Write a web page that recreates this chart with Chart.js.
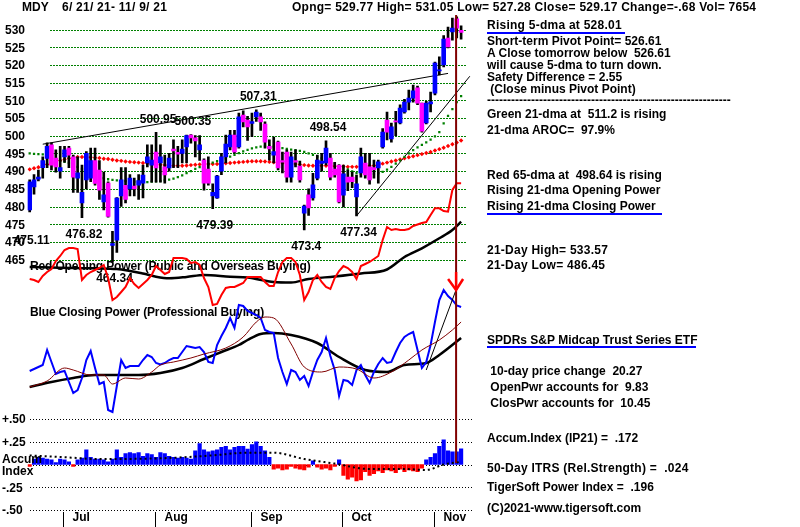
<!DOCTYPE html>
<html>
<head>
<meta charset="utf-8">
<script src="https://cdn.jsdelivr.net/npm/chart.js@4.4.0/dist/chart.umd.min.js"></script>
<style>
  body { margin: 0; background: #fff; }
  #wrap { position: relative; width: 800px; height: 527px; overflow: hidden; background: #fff;
          font: bold 12px "Liberation Sans", Arial, sans-serif; color: #000; }
  #wrap canvas { position: absolute; left: 0; top: 0; }
  .t { position: absolute; white-space: pre; line-height: 14px; }
  .n { letter-spacing: 0.25px; }
  .u { position: absolute; height: 2px; background: #0000ff; }
</style>
</head>
<body>
<div id="wrap">
  <canvas id="chart" width="800" height="527"></canvas>

  <div class="t" style="left:22px;top:0px">MDY</div>
  <div class="t n" style="left:62px;top:0px">6/ 21/ 21- 11/ 9/ 21</div>
  <div class="t n" style="left:292px;top:0px">Opng= 529.77 High= 531.05 Low= 527.28 Close= 529.17 Change=-.68 Vol= 7654</div>

  <div class="t n" style="left:487px;top:18px">Rising 5-dma at 528.01</div>
  <div class="u" style="left:487px;top:32px;width:138px"></div>
  <div class="t" style="left:487px;top:34px">Short-term Pivot Point= 526.61</div>
  <div class="t" style="left:487px;top:46px">A Close tomorrow below  526.61</div>
  <div class="t" style="left:487px;top:58px">will cause 5-dma to turn down.</div>
  <div class="t" style="left:487px;top:70px">Safety Difference = 2.55</div>
  <div class="t" style="left:487px;top:82px"> (Close minus Pivot Point)</div>
  <div class="t" style="left:487px;top:93px">-------------------------------------------------------------</div>
  <div class="t" style="left:487px;top:107px">Green 21-dma at  511.2 is rising</div>
  <div class="t" style="left:487px;top:123px">21-dma AROC=  97.9%</div>
  <div class="t" style="left:487px;top:168px">Red 65-dma at  498.64 is rising</div>
  <div class="t" style="left:487px;top:183px">Rising 21-dma Opening Power</div>
  <div class="t" style="left:487px;top:199px">Rising 21-dma Closing Power</div>
  <div class="u" style="left:487px;top:213px;width:175px"></div>
  <div class="t n" style="left:487px;top:243px">21-Day High= 533.57</div>
  <div class="t n" style="left:487px;top:258px">21-Day Low= 486.45</div>

  <div class="t" style="left:487px;top:333px">SPDRs S&amp;P Midcap Trust Series ETF</div>
  <div class="u" style="left:487px;top:346px;width:209px"></div>
  <div class="t" style="left:487px;top:364px"> 10-day price change  20.27</div>
  <div class="t" style="left:487px;top:380px"> OpenPwr accounts for  9.83</div>
  <div class="t" style="left:487px;top:396px"> ClosPwr accounts for  10.45</div>
  <div class="t" style="left:487px;top:431px">Accum.Index (IP21) =  .172</div>
  <div class="t n" style="left:487px;top:461px">50-Day ITRS (Rel.Strength) =  .024</div>
  <div class="t" style="left:487px;top:480px">TigerSoft Power Index =  .196</div>
  <div class="t" style="left:487px;top:501px">(C)2021-www.tigersoft.com</div>
</div>
<script>
// trading days 6/21/21 - 11/9/21
const junDays = [21, 22, 23, 24, 25, 28, 29, 30];
const julDays = [1, 2, 6, 7, 8, 9, 12, 13, 14, 15, 16, 19, 20, 21, 22, 23, 26, 27, 28, 29, 30];
const augDays = [2, 3, 4, 5, 6, 9, 10, 11, 12, 13, 16, 17, 18, 19, 20, 23, 24, 25, 26, 27, 30, 31];
const sepDays = [1, 2, 3, 7, 8, 9, 10, 13, 14, 15, 16, 17, 20, 21, 22, 23, 24, 27, 28, 29, 30];
const octDays = [1, 4, 5, 6, 7, 8, 11, 12, 13, 14, 15, 18, 19, 20, 21, 22, 25, 26, 27, 28, 29];
const novDays = [1, 2, 3, 4, 5, 8, 9];
const monthNames = ["Jun", "Jul", "Aug", "Sep", "Oct", "Nov"];
const monthDays = [junDays, julDays, augDays, sepDays, octDays, novDays];

const opens = [479, 485.5, 487.7, 491, 493.6, 497.4, 493.7, 490, 494, 496.5,
  494, 488, 481, 487.5, 488, 493, 490.3, 481.3, 486.6, 469,
  470.5, 483, 486, 485, 485.8, 486, 486.6, 492.3, 491.7, 495.4,
  492.3, 491.2, 490.9, 496.2, 495.3, 495, 496.8, 500.2, 499.4, 496,
  493.1, 490.6, 483, 482.4, 490, 494, 496.8, 500.2, 496.8, 505.8,
  504.4, 503.5, 505.3, 505.3, 503.3, 497, 494.5, 498.2, 493, 495.4,
  488.3, 493, 491.4, 478.1, 483.3, 482.4, 488, 492.2, 492.3, 493.7,
  490.6, 491.7, 483.2, 488.3, 488.3, 482.7, 489.5, 492.3, 491.2, 491,
  490.9, 496.8, 504.4, 499.1, 504.2, 503.6, 506.7, 509.5, 510.6, 513.5,
  509.2, 503.6, 509, 512, 518.3, 520, 527.6, 529.3, 533, 529.77];
const highs = [487.5, 489, 490.3, 494, 498, 498, 496, 497, 497, 497,
  494.5, 494, 491.7, 495.5, 496.5, 496.5, 493, 489.7, 487, 473,
  482.5, 491, 491, 489, 488, 489, 491.7, 497.4, 497.4, 500.95,
  497.4, 494.5, 495, 498.8, 497, 498.8, 500.2, 500.35, 500, 500,
  493.5, 494, 486.4, 488.8, 495, 500.2, 501.5, 501.5, 506.4, 507,
  505.5, 506.4, 507.31, 506.4, 503.9, 498.8, 499.6, 498.5, 495.4, 496,
  495.4, 496, 492.8, 480.4, 485, 489.4, 494.5, 495, 498.54, 495,
  492.5, 491.7, 491.7, 490.3, 489.7, 488.9, 496.5, 495, 495, 493.1,
  493.1, 502, 506.7, 503.6, 506.9, 508.7, 510.3, 512.9, 514.3, 514,
  509.2, 509.7, 512.3, 520.8, 522.3, 528.3, 530.7, 533.2, 533.57, 531.05];
const lows = [478.5, 483.5, 487.2, 488, 491, 490.3, 489.7, 488, 492.5, 491,
  484, 484, 476.82, 485, 487, 486, 482, 479, 477, 464.34,
  467, 480, 481, 483, 483, 482, 482.4, 491.2, 486.9, 486.9,
  486.9, 486.6, 490, 491, 491, 492.3, 492.3, 497.9, 494, 493,
  484.6, 486, 479.39, 482.3, 489, 492.3, 496, 495, 496.5, 502.5,
  498.7, 499.7, 504, 501.5, 496.5, 493.1, 492.3, 490.3, 489.5, 486.9,
  486.9, 491.2, 486.9, 473.4, 477.5, 481.8, 487.5, 490, 491.7, 487.5,
  488.3, 481, 479.9, 484.5, 485.3, 477.34, 488.3, 488, 486.3, 488,
  486.6, 496.5, 498.8, 498.2, 500, 503.3, 506.4, 507.3, 509.5, 508.8,
  501, 503.3, 506.7, 511.5, 517.2, 519.4, 524.8, 527, 527.6, 527.28];
const closes = [487, 487.5, 488.3, 493, 497, 491.7, 491.2, 491, 496, 494.5,
  488.3, 489.5, 484, 495, 493, 486.5, 484.6, 483.3, 477.2, 469.5,
  482.4, 487.5, 482, 488, 485, 487.3, 488.9, 494, 493.1, 490.9,
  494, 488.9, 493.7, 495.7, 494.8, 496.2, 500, 499.4, 498.5, 497.4,
  486.6, 486.6, 484, 488.6, 494, 497.6, 500.2, 495.4, 505.3, 503.9,
  502.5, 504, 506.7, 503.9, 498.2, 496.3, 495.5, 490.9, 492.5, 488.3,
  494, 492.5, 487.5, 480.1, 479.6, 486.1, 493.1, 492.8, 496.5, 488.3,
  488.9, 481.3, 489.2, 486.9, 487, 486.4, 494, 488.9, 487.5, 490.4,
  492.6, 501, 501, 502.5, 503.9, 507.8, 509.5, 510.6, 512.7, 509.2,
  501.3, 509.2, 509.6, 520.5, 518.6, 527.3, 525.1, 530.4, 530.4, 529.17];

// green 21-dma and red 65-dma (dotted)
const ma21 = [495, 494.9, 494.8, 494.7, 494.6, 494, 493.2, 492.9, 492.6, 492.3,
  491.8, 491.2, 490.6, 490, 489.4, 488.9, 488.4, 488, 487.7, 487.5,
  487.4, 487.3, 487.2, 487.1, 487, 487, 486.9, 486.9, 487, 487.1,
  487.2, 487.4, 487.6, 487.9, 488.3, 488.8, 489.4, 490, 490.6, 491.1,
  491.6, 492, 492.4, 492.8, 493.2, 493.6, 494.1, 494.6, 495.1, 495.6,
  496, 496.4, 496.7, 496.9, 497, 497, 496.9, 496.7, 496.5, 496.3,
  496.1, 495.9, 495.7, 495.4, 495, 494.6, 494.1, 493.6, 493.1, 492.6,
  492.1, 491.6, 491.1, 490.5, 489.9, 489.4, 489.2, 489.1, 489.1, 489.2,
  489.4, 489.8, 490.4, 491.2, 492.1, 493, 494, 495, 495.9, 496.7,
  497.4, 498.1, 498.9, 499.8, 501, 503.5, 505.6, 507.5, 509.5, 511.2];
const ma65 = [490.5, 490.8, 491.1, 491.5, 491.9, 492.3, 492.7, 493, 493.3, 493.6,
  493.8, 494, 494, 494, 493.9, 493.8, 493.7, 493.5, 493.4, 493.2,
  493, 492.9, 492.7, 492.6, 492.5, 492.4, 492.3, 492.2, 492, 491.9,
  491.8, 491.7, 491.6, 491.5, 491.5, 491.5, 491.6, 491.7, 491.8, 491.9,
  492, 492, 492, 492, 492.1, 492.2, 492.3, 492.4, 492.5, 492.6,
  492.7, 492.8, 492.8, 492.8, 492.7, 492.6, 492.5, 492.4, 492.3, 492.2,
  492.1, 492, 491.9, 491.7, 491.6, 491.5, 491.5, 491.5, 491.5, 491.5,
  491.4, 491.3, 491.3, 491.2, 491.2, 491.2, 491.3, 491.4, 491.5, 491.6,
  491.8, 492.1, 492.4, 492.7, 493, 493.3, 493.6, 493.9, 494.2, 494.5,
  494.8, 495.1, 495.4, 495.8, 496.2, 496.6, 497.1, 497.6, 498.1, 498.64];

// trend lines on price (day index / price)
const upperTrendIdx = [3, 96];
const upperTrendVal = [497.6, 517.6];
const lowerTrendIdx = [75, 101];
const lowerTrendVal = [477.34, 516.8];

// Red Opening Power and its average
const openPower = [-4, -5, -7, -1, 3, 6, 14, 19, 25, 27,
  27, 26, -5, 0, 3, 5, 7, 10, -3, -25,
  -22, -17, -12, -3, -9, -13, -9, -5, 0, 9,
  5, 1, 3, 17, 17, 17, 16, 12, 13, 10,
  -3, -12, -30, -29, -20, -13, -12, -12, -10, -8,
  -2, -2, -2, -2, -7, -11, -11, 3, 13, 17,
  17, 13, 0, -25, -17, -5, 0, -7, -12, -14,
  -3, 4, 9, 7, 3, -4, 9, 11, 13, 16,
  19, 35, 48, 45, 46, 45, 45, 46, 49, 50.5,
  52, 53, 60, 66.7, 66.7, 64, 63.3, 85, 91.7, 91.7];
const openPowerMaIdx = [0, 5, 10, 15, 20, 26, 29, 32, 36, 40, 46, 50, 56, 60, 64, 70, 76, 82, 86, 90, 94, 97, 99];
const openPowerMaVal = [8, 7.5, 7, 6.7, 6, 1.5, -1.7, -3.3, -2, 0, -1.7, -2.5, -7, -7.5, -4, -1.5, 1.5, 5.5, 18, 26.7, 36.7, 45, 53.3];

// Blue Closing Power, its 21-dma (maroon) and slower average (black)
const closePower = [29, 31, 33, 35, 50, 38, 26, 28, 29, 18,
  7, 10, 22, 40, 49, 32, 16, 18, -10, -12,
  14, 40, 32, 34, 34, 34, 40, 45, 43, 37,
  35.5, 37, 40, 42, 42, 48, 54, 53, 52, 53,
  48, 38, 37, 55, 64, 72, 82, 72, 95, 94,
  89, 87, 85, 82, 70, 68, 67, 42, 28, 16,
  30, 28, 20, 24, 14, 28, 40, 48, 62, 44,
  30, 4, 20, 19, 15, 30, 35, 25, 17, 28,
  36, 42, 37, 38, 48, 57, 63, 66, 68, 50,
  32, 38, 55, 78, 100, 110, 104, 100, 94.5, 93];
const closePowerMa21Idx = [0, 4, 8, 10, 14, 17, 19, 22, 25, 28, 30, 33, 37, 40, 45, 49, 52, 54, 56, 60, 63, 67, 71, 75, 79, 83, 87, 90, 94, 97, 99];
const closePowerMa21Val = [13, 19, 32, 30, 25, 25, 16, 22, 21, 28, 35, 38, 42, 46, 52, 63, 78, 83, 82, 56, 33, 28, 33, 31, 22, 28, 40, 50, 60, 70, 78];
const closePowerMaIdx = [0, 5, 10, 15, 20, 25, 30, 35, 40, 44, 48, 50, 53, 56, 60, 66, 71, 77, 82, 86, 91, 94, 99];
const closePowerMaVal = [13, 18, 22, 25, 25, 25, 27, 32, 41, 48, 55, 60, 66, 67, 65, 57, 43, 30, 28, 35, 37, 45, 62];
const closePowerTrendIdx = [91, 98];
const closePowerTrendVal = [30, 112];

// Accumulation index (IP21) and its average
const accum = [-0.02, 0.06, 0.08, 0.07, 0.06, 0.05, 0.02, 0.06, 0.05, 0.03,
  -0.02, 0.05, 0.07, 0.16, 0.08, 0.06, 0.06, 0.05, 0.03, 0.06,
  0.16, 0.08, 0.12, 0.13, 0.12, 0.13, 0.09, 0.12, 0.11, 0.08,
  0.13, 0.12, 0.09, 0.08, 0.07, 0.08, 0.07, 0.06, 0.15, 0.23,
  0.16, 0.14, 0.15, 0.16, 0.19, 0.2, 0.16, 0.19, 0.2, 0.2,
  0.17, 0.22, 0.25, 0.2, 0.15, 0.08, -0.05, -0.04, -0.06, -0.05,
  -0.02, -0.04, -0.05, -0.06, -0.03, 0.04, -0.03, -0.05, -0.04, -0.06,
  -0.02, 0.05, -0.12, -0.16, -0.14, -0.18, -0.17, -0.08, -0.12, -0.1,
  -0.07, -0.09, -0.06, -0.07, -0.09, -0.05, -0.08, -0.06, -0.07, -0.08,
  -0.04, 0.05, 0.08, 0.12, 0.2, 0.27, 0.15, 0.14, 0.14, 0.172];
const accumMaIdx = [0, 8, 16, 31, 42, 50, 56, 63, 70, 78, 86, 91, 95, 99];
const accumMaVal = [0.1, 0.08, 0.06, 0.07, 0.1, 0.13, 0.13, 0.06, 0.01, -0.05, -0.05, -0.06, 0, 0.03];

// axis labels and marked highs / lows
const priceTicks = [530, 525, 520, 515, 510, 505, 500, 495, 490, 485, 480, 475, 470, 465];
const accumTicks = [0.5, 0.25, 0, -0.25, -0.5];
const accumTickLabels = ["+.50", "+.25", "", "-.25", "-.50"];
const peakIdx = [29, 37, 52, 68];
const peakVal = [500.95, 500.35, 507.31, 498.54];
const troughIdx = [0, 12, 19, 42, 63, 75];
const troughVal = [475.11, 476.82, 464.34, 479.39, 473.4, 477.34];
const signalIdx = 97.85;

const dates = monthDays.flatMap((days, m) => days.map((d) => `${m + 6}/${d}`));
const monthStarts = [];
monthDays.reduce((start, days) => { monthStarts.push(start); return start + days.length; }, 0);

const pts = (idx, vals) => idx.map((x, k) => ({ x: x, y: vals[k] }));
const series = (vals) => vals.map((v, i) => ({ x: i, y: v }));

const FONT = 'bold 12px "Liberation Sans", Arial, sans-serif';

const overlay = {
  id: "overlay",
  beforeDatasetsDraw(chart) {
    const { ctx } = chart;
    const { x, yP, yA } = chart.scales;
    ctx.save();
    ctx.lineWidth = 1;
    ctx.strokeStyle = "#008000";
    ctx.setLineDash([2, 1]);
    priceTicks.forEach((v) => {
      const y = Math.round(yP.getPixelForValue(v)) + 0.5;
      ctx.beginPath(); ctx.moveTo(50, y); ctx.lineTo(466, y); ctx.stroke();
    });
    ctx.strokeStyle = "#000";
    ctx.setLineDash([1, 2]);
    accumTicks.forEach((v) => {
      const y = Math.round(yA.getPixelForValue(v)) + 0.5;
      ctx.beginPath(); ctx.moveTo(30, y); ctx.lineTo(474, y); ctx.stroke();
    });
    ctx.setLineDash([]);

    ctx.font = FONT;
    ctx.fillStyle = "#000";
    ctx.textBaseline = "middle";
    ctx.textAlign = "left";
    ctx.letterSpacing = "-0.15px";
    ctx.fillText("Red Opening Power (Public and Overseas Buying)", 30, 267);
    ctx.fillText("Blue Closing Power (Professional Buying)", 30, 313);
    ctx.letterSpacing = "0px";

    ctx.textAlign = "center";
    peakIdx.forEach((i, k) => {
      ctx.fillText(String(peakVal[k]), x.getPixelForValue(i) + 2, yP.getPixelForValue(peakVal[k]) - 13);
    });
    troughIdx.forEach((i, k) => {
      ctx.fillText(String(troughVal[k]), x.getPixelForValue(i) + 2, yP.getPixelForValue(troughVal[k]) + 17);
    });
    ctx.restore();
  },
  afterDatasetsDraw(chart) {
    const { ctx, chartArea } = chart;
    const { x, yP, yA } = chart.scales;
    ctx.save();
    ctx.font = FONT;
    ctx.fillStyle = "#000";
    ctx.textBaseline = "middle";
    ctx.textAlign = "left";
    priceTicks.forEach((v) => ctx.fillText(String(v), 5, yP.getPixelForValue(v) + 1));
    accumTicks.forEach((v, k) => ctx.fillText(accumTickLabels[k], 2, yA.getPixelForValue(v) + 1));
    ctx.fillText("Accum", 2, 460);
    ctx.fillText("Index", 2, 472);

    // month ticks
    ctx.strokeStyle = "#000";
    ctx.lineWidth = 1;
    monthStarts.slice(1).forEach((start, k) => {
      const px = Math.round(x.getPixelForValue(start - 0.3)) + 0.5;
      ctx.beginPath(); ctx.moveTo(px, chartArea.bottom); ctx.lineTo(px, 527); ctx.stroke();
      ctx.fillText(monthNames[k + 1], px + 9, 518);
    });

    // signal marker
    const sx = x.getPixelForValue(signalIdx);
    ctx.strokeStyle = "#800000";
    ctx.lineWidth = 2;
    ctx.beginPath(); ctx.moveTo(sx, 15); ctx.lineTo(sx, 463); ctx.stroke();
    ctx.strokeStyle = "#ff0000";
    ctx.lineWidth = 2.5;
    ctx.beginPath(); ctx.moveTo(sx, 272); ctx.lineTo(sx, 290); ctx.stroke();
    ctx.beginPath(); ctx.moveTo(sx - 8, 279); ctx.lineTo(sx, 290); ctx.lineTo(sx + 7, 279); ctx.stroke();
    ctx.restore();
  }
};

const bodyColors = opens.map((o, i) => (closes[i] >= o ? "#0000ff" : "#ff00ff"));

new Chart(document.getElementById("chart"), {
  type: "bar",
  data: {
    labels: dates,
    datasets: [
      {
        label: "Body", order: 1, yAxisID: "yP", grouped: false, barThickness: 4,
        data: opens.map((o, i) => ({ x: i, y: [o, closes[i]] })),
        backgroundColor: bodyColors
      },
      {
        label: "Range", order: 2, yAxisID: "yP", grouped: false, barThickness: 2,
        data: lows.map((l, i) => ({ x: i, y: [l, highs[i]] })),
        backgroundColor: "#000"
      },
      {
        type: "line", label: "21-dma", order: 3, yAxisID: "yP", showLine: false,
        data: series(ma21), pointStyle: "rect", pointRadius: 1.6,
        pointBackgroundColor: "#008000", pointBorderWidth: 0
      },
      {
        type: "line", label: "65-dma", order: 3, yAxisID: "yP", showLine: false,
        data: series(ma65), pointStyle: "rectRot", pointRadius: 2.2,
        pointBackgroundColor: "#ff0000", pointBorderWidth: 0
      },
      {
        type: "line", label: "Upper trend", order: 4, yAxisID: "yP",
        data: pts(upperTrendIdx, upperTrendVal), borderColor: "#000", borderWidth: 1, pointRadius: 0
      },
      {
        type: "line", label: "Lower trend", order: 4, yAxisID: "yP",
        data: pts(lowerTrendIdx, lowerTrendVal), borderColor: "#000", borderWidth: 1, pointRadius: 0
      },
      {
        type: "line", label: "Opening Power", order: 5, yAxisID: "yOP",
        data: series(openPower), borderColor: "#ff0000", borderWidth: 2, pointRadius: 0
      },
      {
        type: "line", label: "Opening Power MA", order: 6, yAxisID: "yOP",
        data: pts(openPowerMaIdx, openPowerMaVal), borderColor: "#000", borderWidth: 2.5, pointRadius: 0,
        cubicInterpolationMode: "monotone"
      },
      {
        type: "line", label: "Closing Power", order: 5, yAxisID: "yCP",
        data: series(closePower), borderColor: "#0000ff", borderWidth: 2, pointRadius: 0
      },
      {
        type: "line", label: "Closing Power 21-dma", order: 4, yAxisID: "yCP",
        data: pts(closePowerMa21Idx, closePowerMa21Val), borderColor: "#800000", borderWidth: 1, pointRadius: 0,
        cubicInterpolationMode: "monotone"
      },
      {
        type: "line", label: "Closing Power MA", order: 6, yAxisID: "yCP",
        data: pts(closePowerMaIdx, closePowerMaVal), borderColor: "#000", borderWidth: 2.5, pointRadius: 0,
        cubicInterpolationMode: "monotone"
      },
      {
        type: "line", label: "Closing Power trend", order: 4, yAxisID: "yCP",
        data: pts(closePowerTrendIdx, closePowerTrendVal), borderColor: "#000", borderWidth: 1, pointRadius: 0
      },
      {
        label: "Accum Index", order: 7, yAxisID: "yA", grouped: false, barThickness: 3.5,
        data: series(accum),
        backgroundColor: accum.map((v) => (v >= 0 ? "#0000ff" : "#ff0000"))
      },
      {
        type: "line", label: "Accum MA", order: 4, yAxisID: "yA",
        data: pts(accumMaIdx, accumMaVal), borderColor: "#000", borderWidth: 2, borderDash: [2, 3],
        pointRadius: 0, cubicInterpolationMode: "monotone"
      }
    ]
  },
  options: {
    responsive: false,
    animation: false,
    devicePixelRatio: 1,
    events: [],
    layout: { padding: { left: 27.5, right: 328, top: 10, bottom: 15 } },
    plugins: { legend: { display: false }, tooltip: { enabled: false } },
    scales: {
      x: { type: "linear", min: -0.5, max: 101.5, offset: false, display: false },
      yP: { type: "linear", min: 393.7, max: 535.51, display: false },
      yA: { type: "linear", min: -0.522, max: 4.995, display: false },
      yOP: { type: "linear", min: -237, max: 265, display: false },
      yCP: { type: "linear", min: -112, max: 390, display: false }
    }
  },
  plugins: [overlay]
});
</script>
</body>
</html>
